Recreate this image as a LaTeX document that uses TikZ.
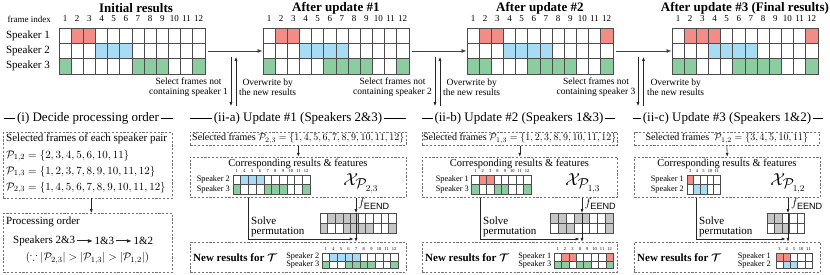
\documentclass[tikz,border=0pt]{standalone}
\usepackage{amsmath,amssymb}
\usepackage{fontspec}
\setmainfont{Liberation Serif}
\setsansfont{Liberation Sans}
\usetikzlibrary{arrows.meta,positioning,calc}
\definecolor{spkred}{HTML}{F28C86}
\definecolor{spkblue}{HTML}{A8DCF4}
\definecolor{spkgreen}{HTML}{8CCDA0}
\definecolor{eendgray}{HTML}{C6C6C6}

\tikzset{
  cellline/.style={draw=black!70, line width=0.55pt},
  dbox/.style={draw=black!55, dash pattern=on 2.2pt off 1.6pt, line width=0.6pt, inner sep=0pt, anchor=north west},
  gridbox/.style={inner sep=0pt, outer sep=0pt, anchor=north west},
  flow/.style={draw=black!75, line width=0.8pt, -{Latex[length=5pt,width=4pt]}},
  vflow/.style={draw=black!85, line width=0.6pt, -{Latex[length=3.8pt,width=3pt]}},
  ordarrow/.style={draw=black!85, line width=1pt, -{Latex[length=5pt,width=4pt]}, shorten <=1.5pt, shorten >=1.5pt},
  ttl/.style={font=\fontsize{13}{15}\selectfont\bfseries, inner sep=0pt},
  hdr/.style={font=\fontsize{13}{15}\selectfont, inner sep=1.5pt},
  hdrrule/.style={draw=black, line width=0.9pt},
  txt/.style={font=\fontsize{11}{12}\selectfont, inner sep=0pt},
  seltxt/.style={font=\fontsize{10}{11}\selectfont, inner sep=0pt},
  note/.style={font=\fontsize{9.5}{10}\selectfont, align=center, inner sep=0pt},
  small/.style={font=\fontsize{9}{10}\selectfont, inner sep=0pt},
  spk/.style={font=\fontsize{11}{12}\selectfont, anchor=east, inner sep=0pt},
  spksmall/.style={font=\fontsize{8.3}{9}\selectfont, anchor=east, inner sep=0pt},
  feat/.style={font=\fontsize{19}{21}\selectfont, inner sep=0pt},
}

% one row of cells: x, y, cell width, cell height, colour, 0/1 flags
\newcommand{\cellrow}[6]{%
  \foreach \f [count=\k from 0] in {#6}{%
    \ifnum\f=1 \fill[#5] ({#1+\k*#3},{#2}) rectangle ++(#3,#4);\fi
    \draw[cellline] ({#1+\k*#3},{#2}) rectangle ++(#3,#4);}}
% frame numbers above a grid: x, y, cell width, font, list
\newcommand{\colnums}[5]{%
  \foreach \n [count=\k from 0] in {#5}
    \node[inner sep=0pt, font=#4] at ({#1+(\k+0.5)*#3},{#2}) {\n};}
% full 12-frame result grid: x, name, speaker 1/2/3 flags
\newcommand{\resultgrid}[5]{%
  \node[gridbox, minimum width=145.8, minimum height=45.9] (#2) at (#1,28) {};
  \colnums{#1}{19}{12.15}{\fontsize{9}{10}\selectfont}{1,...,12}
  \cellrow{#1}{28}{12.15}{15.3}{spkred}{#3}
  \cellrow{#1}{43.3}{12.15}{15.3}{spkblue}{#4}
  \cellrow{#1}{58.6}{12.15}{15.3}{spkgreen}{#5}}
\newcommand{\tinynum}{\fontsize{4.5}{5}\selectfont}

\begin{document}
\begin{tikzpicture}[x=1pt,y=-1pt]
\useasboundingbox (0,0) rectangle (830,275);

% ---- top row: results after each update
\node[ttl] (ttl0) at (136,8) {Initial results};
\node[ttl] (ttl1) at (335.9,8) {After update \#1};
\node[ttl] (ttl2) at (539.9,8) {After update \#2};
\node[ttl] (ttl3) at (744.9,8) {After update \#3 (Final results)};
\node[small, anchor=east] (fidx) at (51,19) {frame index};
\node[spk] (spkA) at (50,35.6) {Speaker 1};
\node[spk] (spkB) at (50,51) {Speaker 2};
\node[spk] (spkC) at (50,66.3) {Speaker 3};

\resultgrid{59}{res0}{0,1,1,0,0,0,0,0,0,0,0,0}{0,0,0,1,1,1,0,0,0,0,0,0}{1,0,0,0,0,0,1,1,1,0,0,1}
\resultgrid{263}{res1}{0,1,1,0,0,0,0,0,0,0,0,0}{0,0,0,1,1,1,1,0,0,0,0,0}{1,0,0,0,0,1,1,1,1,0,0,1}
\resultgrid{467}{res2}{0,1,1,0,0,0,0,0,0,0,0,1}{0,0,0,1,1,1,1,0,0,0,0,0}{1,1,0,0,0,1,1,1,1,0,0,1}
\resultgrid{672}{res3}{0,1,1,1,0,0,0,0,0,0,0,1}{0,0,0,1,1,1,1,0,0,0,0,0}{1,1,0,0,0,1,1,1,1,0,0,1}

\draw[flow] ([xshift=3pt]res0.east) -- ([xshift=-0.5pt]res1.west);
\draw[flow] ([xshift=3pt]res1.east) -- ([xshift=-0.5pt]res2.west);
\draw[flow] ([xshift=3pt]res2.east) -- ([xshift=-0.5pt]res3.west);

% ---- select / overwrite arrows
\coordinate (selA1) at (231,57);   \coordinate (selA2) at (231,106);
\coordinate (owA1) at (236,106);   \coordinate (owA2) at (236,57);
\coordinate (selB1) at (435,57);   \coordinate (selB2) at (435,106);
\coordinate (owB1) at (440,106);   \coordinate (owB2) at (440,57);
\coordinate (selC1) at (638,57);   \coordinate (selC2) at (638,106);
\coordinate (owC1) at (643.5,106); \coordinate (owC2) at (643.5,57);
\draw[vflow] (selA1) -- (selA2);
\draw[vflow] (owA1) -- (owA2);
\draw[vflow] (selB1) -- (selB2);
\draw[vflow] (owB1) -- (owB2);
\draw[vflow] (selC1) -- (selC2);
\draw[vflow] (owC1) -- (owC2);
\node[note, anchor=east] (selAtxt) at (228,87) {Select frames not\\containing speaker 1};
\node[note, anchor=west] (owAtxt) at (239,87) {Overwrite by\\the new results};
\node[note, anchor=east] (selBtxt) at (432,87) {Select frames not\\containing speaker 2};
\node[note, anchor=west] (owBtxt) at (443,87) {Overwrite by\\the new results};
\node[note, anchor=east] (selCtxt) at (635.5,87) {Select frames not\\containing speaker 3};
\node[note, anchor=west] (owCtxt) at (647,87) {Overwrite by\\the new results};

% ---- (i) processing order
\node[hdr] (hdI) at (88,118) {(i) Decide processing order};
\draw[hdrrule] (4,118) -- (hdI.west);
\draw[hdrrule] (hdI.east) -- (173,118);
\node[dbox, minimum width=169, minimum height=65.5] (pairbox) at (3,132.3) {};
\node[txt, anchor=west] (pairttl) at (6,139) {Selected frames of each speaker pair};
\node[txt, anchor=west] (p12) at (6,155.5) {$\mathcal{P}_{1,2}=\{2,3,4,5,6,10,11\}$};
\node[txt, anchor=west] (p13) at (6,171.5) {$\mathcal{P}_{1,3}=\{1,2,3,7,8,9,10,11,12\}$};
\node[txt, anchor=west] (p23) at (6,187.5) {$\mathcal{P}_{2,3}=\{1,4,5,6,7,8,9,10,11,12\}$};
\node[dbox, minimum width=169, minimum height=58.7] (orderbox) at (3,213) {};
\draw[vflow] ([xshift=3.5pt]pairbox.south) -- ([xshift=3.5pt]orderbox.north);
\node[txt, anchor=west] (ordttl) at (6,222) {Processing order};
\node[txt, anchor=west] (ord1) at (13,241) {Speakers 2\&3};
\node[txt, right=19pt of ord1] (ord2) {1\&3};
\node[txt, right=19pt of ord2] (ord3) {1\&2};
\draw[ordarrow] (ord1) -- (ord2);
\draw[ordarrow] (ord2) -- (ord3);
\node[txt] (because) at (87.5,258) {$(\because|\mathcal{P}_{2,3}|>|\mathcal{P}_{1,3}|>|\mathcal{P}_{1,2}|)$};

% ---- (ii-a) update #1
\node[hdr] (hdA) at (298,118) {(ii-a) Update \#1 (Speakers 2\&3)};
\draw[hdrrule] (190,118) -- (hdA.west);
\draw[hdrrule] (hdA.east) -- (406,118);
\node[dbox, minimum width=216, minimum height=13.3] (selA) at (190,131.7) {};
\node[seltxt] (selAlbl) at (selA.center) {Selected frames $\mathcal{P}_{2,3}=\{1,4,5,6,7,8,9,10,11,12\}$};
\node[dbox, minimum width=216, minimum height=40.3] (corrA) at (190,156.7) {};
\draw[vflow] (selA.south) -- (corrA.north);
\node[txt, font=\fontsize{10.5}{12}\selectfont] (corrAttl) at (298,163.5) {Corresponding results \& features};
\colnums{233}{171.5}{7.7}{\tinynum}{1,4,5,6,7,8,9,10,11,12}
\cellrow{233}{175}{7.7}{9.5}{spkblue}{0,1,1,1,0,0,0,0,0,0}
\cellrow{233}{184.5}{7.7}{9.5}{spkgreen}{1,0,0,0,1,1,1,0,0,1}
\node[spksmall] (corrAs2) at (230,179.7) {Speaker 2};
\node[spksmall] (corrAs3) at (230,189.2) {Speaker 3};
\node[feat] (featA) at (361,183) {$\mathcal{X}_{\mathcal{P}_{2,3}}$};
\node[gridbox, minimum width=76, minimum height=20] (permA) at (320,213) {};
\cellrow{320}{213}{7.6}{10}{eendgray}{0,1,1,1,1,0,0,0,0,0}
\cellrow{320}{223}{7.6}{10}{eendgray}{1,0,0,1,1,1,1,0,0,1}
\node[dbox, minimum width=216, minimum height=30] (newA) at (190,241.7) {};
\coordinate (solveA) at (248,239);
\coordinate (mergeA) at (356,239);
\draw[vflow] (corrA.south -| mergeA) -- (permA.north -| mergeA);
\draw[vflow] (permA.north -| mergeA) -- (newA.north -| mergeA);
\draw[vflow] (corrA.south -| solveA) -- (solveA) -- ([xshift=-2.5pt]mergeA);
\node[txt, anchor=west, align=left, font=\fontsize{11}{10}\selectfont] (solveAtxt) at (251,226.5) {Solve\\permutation};
\node[txt, anchor=west, font=\fontsize{13}{14}\selectfont] (fA) at (358,204) {$f_{\mathsf{EEND}}$};
\node[txt, anchor=west, font=\fontsize{11}{12}\selectfont\bfseries] (newAttl) at (193,258) {New results for $\boldsymbol{\mathcal{T}}$};
\colnums{322}{249}{7.6}{\tinynum}{1,4,5,6,7,8,9,10,11,12}
\cellrow{322}{253}{7.6}{7.8}{spkblue}{0,1,1,1,1,0,0,0,0,0}
\cellrow{322}{260.8}{7.6}{7.8}{spkgreen}{1,0,0,1,1,1,1,0,0,1}
\node[spksmall] (newAs2) at (319.5,257) {Speaker 2};
\node[spksmall] (newAs3) at (319.5,264.7) {Speaker 3};

% ---- (ii-b) update #2
\node[hdr] (hdB) at (519,118) {(ii-b) Update \#2 (Speakers 1\&3)};
\draw[hdrrule] (422,118) -- (hdB.west);
\draw[hdrrule] (hdB.east) -- (615,118);
\node[dbox, minimum width=195, minimum height=13.3] (selB) at (422,131.7) {};
\node[seltxt] (selBlbl) at (selB.center) {Selected frames $\mathcal{P}_{1,3}=\{1,2,3,8,9,10,11,12\}$};
\node[dbox, minimum width=195, minimum height=40.3] (corrB) at (422,156.7) {};
\draw[vflow] (selB.south) -- (corrB.north);
\node[txt, font=\fontsize{10.5}{12}\selectfont] (corrBttl) at (519.5,163.5) {Corresponding results \& features};
\colnums{471.7}{171.5}{7.4}{\tinynum}{1,2,3,8,9,10,11,12}
\cellrow{471.7}{175}{7.4}{9.5}{spkred}{0,1,1,0,0,0,0,0}
\cellrow{471.7}{184.5}{7.4}{9.5}{spkgreen}{1,0,0,1,1,0,0,1}
\node[spksmall] (corrBs1) at (469,179.7) {Speaker 1};
\node[spksmall] (corrBs3) at (469,189.2) {Speaker 3};
\node[feat] (featB) at (583,183) {$\mathcal{X}_{\mathcal{P}_{1,3}}$};
\node[gridbox, minimum width=62.4, minimum height=20] (permB) at (550.7,213) {};
\cellrow{550.7}{213}{7.8}{10}{eendgray}{1,1,0,1,1,0,0,1}
\cellrow{550.7}{223}{7.8}{10}{eendgray}{0,1,1,0,0,0,0,1}
\node[dbox, minimum width=195, minimum height=30] (newB) at (422,241.7) {};
\coordinate (solveB) at (480,239);
\coordinate (mergeB) at (582,239);
\draw[vflow] (corrB.south -| mergeB) -- (permB.north -| mergeB);
\draw[vflow] (permB.north -| mergeB) -- (newB.north -| mergeB);
\draw[vflow] (corrB.south -| solveB) -- (solveB) -- ([xshift=-2.5pt]mergeB);
\node[txt, anchor=west, align=left, font=\fontsize{11}{10}\selectfont] (solveBtxt) at (483,226.5) {Solve\\permutation};
\node[txt, anchor=west, font=\fontsize{13}{14}\selectfont] (fB) at (584.5,204) {$f_{\mathsf{EEND}}$};
\node[txt, anchor=west, font=\fontsize{11}{12}\selectfont\bfseries] (newBttl) at (425,258) {New results for $\boldsymbol{\mathcal{T}}$};
\colnums{554}{249}{7.4}{\tinynum}{1,2,3,8,9,10,11,12}
\cellrow{554}{253}{7.4}{7.8}{spkred}{0,1,1,0,0,0,0,1}
\cellrow{554}{260.8}{7.4}{7.8}{spkgreen}{1,1,0,1,1,0,0,1}
\node[spksmall] (newBs1) at (551.5,257) {Speaker 1};
\node[spksmall] (newBs3) at (551.5,264.7) {Speaker 3};

% ---- (ii-c) update #3
\node[hdr] (hdC) at (727,118) {(ii-c) Update \#3 (Speakers 1\&2)};
\draw[hdrrule] (633,118) -- (hdC.west);
\draw[hdrrule] (hdC.east) -- (823,118);
\node[dbox, minimum width=185, minimum height=13.3] (selC) at (634,131.7) {};
\node[seltxt] (selClbl) at (selC.center) {Selected frames\ \ $\mathcal{P}_{1,2}=\{3,4,5,10,11\}$};
\node[dbox, minimum width=186, minimum height=40.3] (corrC) at (634,156.7) {};
\draw[vflow] (selC.south) -- (corrC.north);
\node[txt, font=\fontsize{10.5}{12}\selectfont] (corrCttl) at (727,163.5) {Corresponding results \& features};
\colnums{687}{171.5}{6.6}{\tinynum}{3,4,5,10,11}
\cellrow{687}{175}{6.6}{9.5}{spkred}{1,0,0,0,0}
\cellrow{687}{184.5}{6.6}{9.5}{spkblue}{0,1,1,0,0}
\node[spksmall] (corrCs1) at (684,179.7) {Speaker 1};
\node[spksmall] (corrCs2) at (684,189.2) {Speaker 2};
\node[feat] (featC) at (788,183) {$\mathcal{X}_{\mathcal{P}_{1,2}}$};
\node[gridbox, minimum width=37.5, minimum height=20] (permC) at (767,213) {};
\cellrow{767}{213}{7.5}{10}{eendgray}{1,1,0,0,0}
\cellrow{767}{223}{7.5}{10}{eendgray}{0,1,1,0,0}
\node[dbox, minimum width=186, minimum height=30] (newC) at (634,241.7) {};
\coordinate (solveC) at (696,239);
\coordinate (mergeC) at (788,239);
\draw[vflow] (corrC.south -| mergeC) -- (permC.north -| mergeC);
\draw[vflow] (permC.north -| mergeC) -- (newC.north -| mergeC);
\draw[vflow] (corrC.south -| solveC) -- (solveC) -- ([xshift=-2.5pt]mergeC);
\node[txt, anchor=west, align=left, font=\fontsize{11}{10}\selectfont] (solveCtxt) at (699,226.5) {Solve\\permutation};
\node[txt, anchor=west, font=\fontsize{13}{14}\selectfont] (fC) at (791,204) {$f_{\mathsf{EEND}}$};
\node[txt, anchor=west, font=\fontsize{11}{12}\selectfont\bfseries] (newCttl) at (637,258) {New results for $\boldsymbol{\mathcal{T}}$};
\colnums{776}{249}{7.2}{\tinynum}{3,4,5,10,11}
\cellrow{776}{253}{7.2}{7.8}{spkred}{1,1,0,0,0}
\cellrow{776}{260.8}{7.2}{7.8}{spkblue}{0,1,1,0,0}
\node[spksmall] (newCs1) at (771,257) {Speaker 1};
\node[spksmall] (newCs2) at (771,264.7) {Speaker 2};
\end{tikzpicture}
\end{document}
